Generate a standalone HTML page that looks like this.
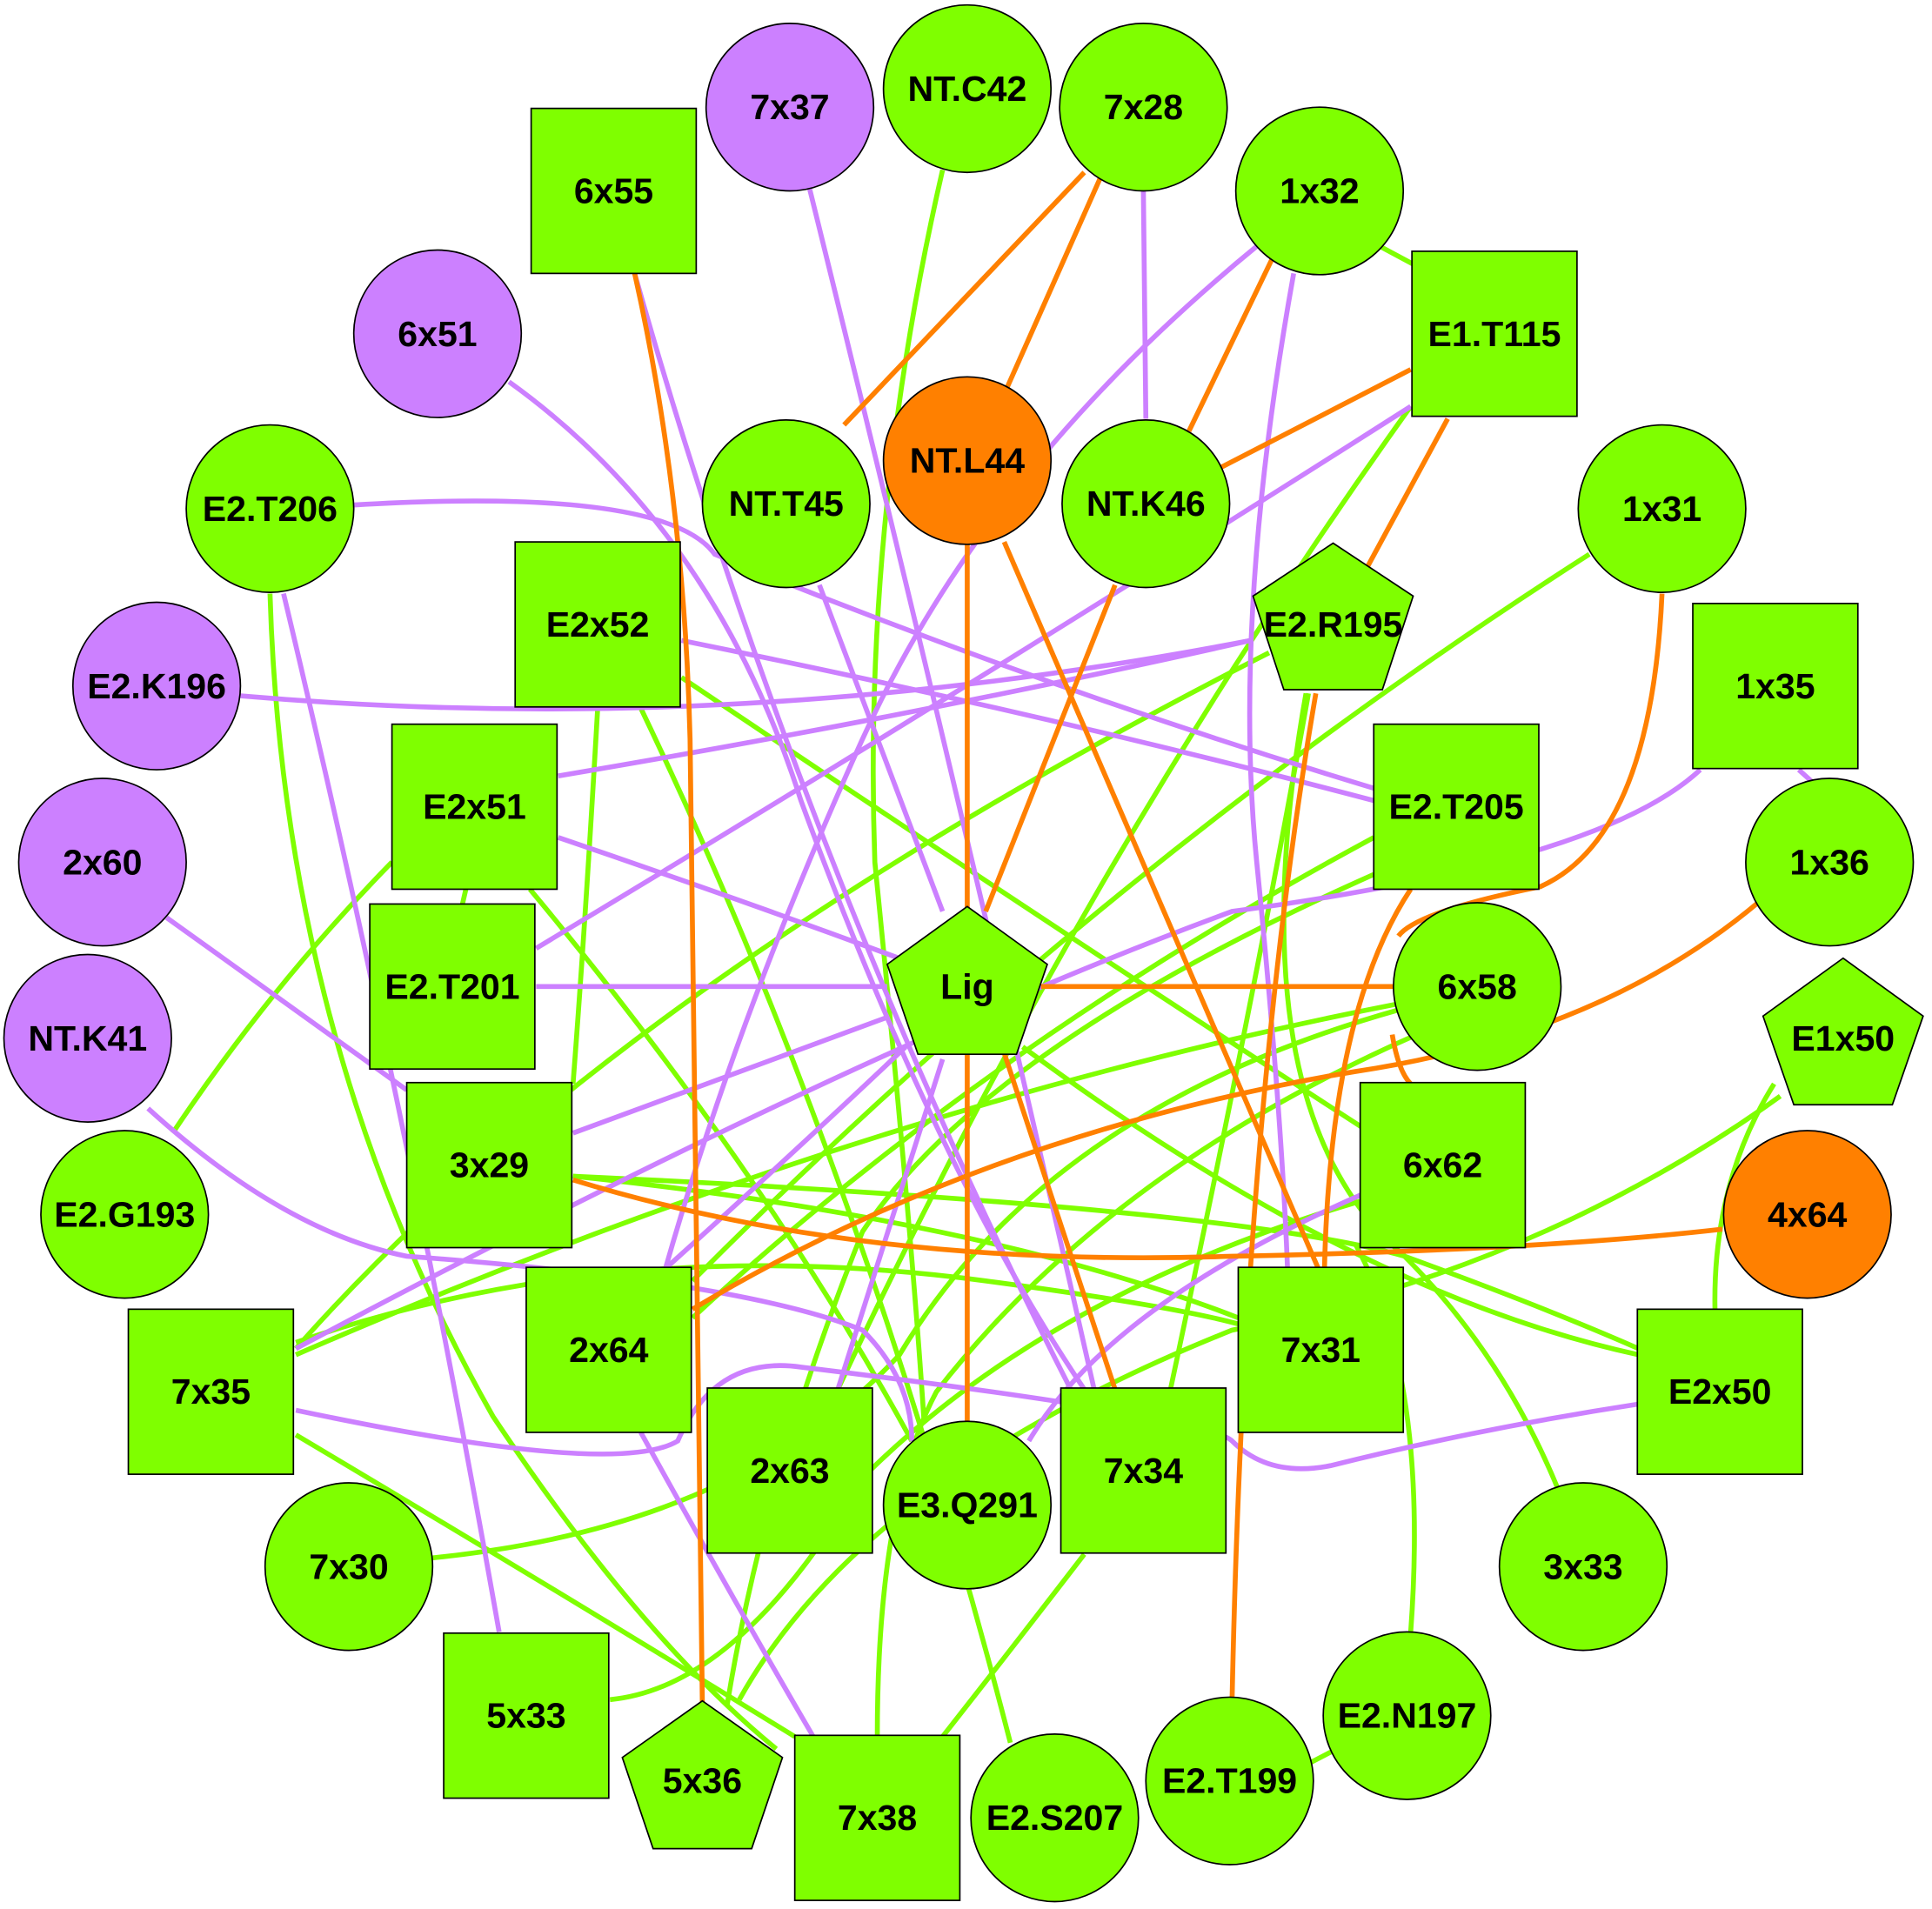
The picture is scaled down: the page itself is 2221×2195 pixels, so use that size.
<!DOCTYPE html>
<html><head><meta charset="utf-8"><style>
html,body{margin:0;padding:0;background:#fff}
svg{display:block}
text{font-family:"Liberation Sans",Arial,sans-serif;font-weight:bold;font-size:29px;text-anchor:middle;dominant-baseline:central;fill:#000}
.g{stroke:#7fff00;stroke-width:4;fill:none}
.p{stroke:#cc80ff;stroke-width:4;fill:none}
.o{stroke:#ff8000;stroke-width:4;fill:none}
.n{stroke:#000;stroke-width:1.2}
</style></head><body>
<svg width="2221" height="2195" viewBox="0 0 1568 1550" xmlns="http://www.w3.org/2000/svg">
<path class="g" d="M765,138 Q700,420 710,700 Q740,1000 750,1155"/>
<path class="g" d="M1120,200 L1148,215"/>
<path class="g" d="M1145,330 Q880,700 680,1128"/>
<path class="g" d="M1030,530 Q500,800 240,1095"/>
<path class="g" d="M1060,563 Q1000,900 1140,1020 Q1220,1100 1265,1210"/>
<path class="g" d="M1290,450 Q900,700 562,1040"/>
<path class="g" d="M485,575 Q475,750 465,880"/>
<path class="g" d="M520,575 Q700,950 820,1415"/>
<path class="g" d="M553,550 Q850,750 1105,915"/>
<path class="g" d="M318,700 Q220,800 140,920"/>
<path class="g" d="M430,722 Q620,950 740,1170"/>
<path class="g" d="M378,722 L375,735"/>
<path class="g" d="M219,482 Q230,850 400,1150 Q520,1330 630,1420"/>
<path class="g" d="M1115,710 Q800,850 700,1000 Q620,1200 590,1385"/>
<path class="g" d="M1115,680 Q800,850 562,1070"/>
<path class="g" d="M1135,815 Q700,900 240,1100"/>
<path class="g" d="M1135,820 Q850,900 730,1100 Q600,1240 350,1265"/>
<path class="g" d="M1150,840 Q900,950 760,1130 Q712,1220 712,1410"/>
<path class="g" d="M465,955 Q800,990 1005,1070"/>
<path class="g" d="M465,955 Q1000,980 1140,1020 Q1250,1060 1330,1095"/>
<path class="g" d="M1105,975 Q850,1050 700,1200 Q600,1370 495,1380"/>
<path class="g" d="M830,850 Q1100,1050 1330,1100"/>
<path class="g" d="M240,1165 Q450,1290 645,1410"/>
<path class="g" d="M880,1262 Q820,1340 765,1410"/>
<path class="g" d="M1445,890 Q1250,1030 1000,1080 Q700,1200 600,1380"/>
<path class="g" d="M1440,880 Q1390,960 1392,1063"/>
<path class="g" d="M1085,1420 L1062,1432"/>
<path class="g" d="M1145,1325 Q1160,1120 1100,1010"/>
<path class="g" d="M240,1090 Q500,1000 800,1040 Q950,1060 1005,1075"/>
<path class="g" d="M1062,563 Q1020,800 950,1128"/>
<path class="p" d="M655,145 Q780,650 888,1128"/>
<path class="p" d="M413,310 Q580,430 650,650 Q760,950 880,1128"/>
<path class="p" d="M515,222 Q650,700 870,1130"/>
<path class="p" d="M287,410 Q540,395 580,450 Q850,560 1115,640"/>
<path class="p" d="M665,475 L765,740"/>
<path class="p" d="M553,520 Q850,580 1115,650"/>
<path class="p" d="M195,565 Q600,600 1015,520"/>
<path class="p" d="M453,630 Q750,580 1015,520"/>
<path class="p" d="M453,680 Q600,730 735,780"/>
<path class="p" d="M435,801 L720,801"/>
<path class="p" d="M435,770 Q800,550 1145,330"/>
<path class="p" d="M1020,200 Q800,380 700,600 Q600,820 540,1030"/>
<path class="p" d="M1050,222 Q1000,500 1020,700 Q1040,900 1045,1030"/>
<path class="p" d="M928,155 L930,340"/>
<path class="p" d="M135,745 Q240,820 330,885"/>
<path class="p" d="M120,900 Q230,1000 330,1020 Q600,1040 700,1080 Q740,1120 740,1170"/>
<path class="p" d="M465,920 L720,826"/>
<path class="p" d="M240,1095 Q700,850 1000,740 Q1300,700 1380,625"/>
<path class="p" d="M240,1145 Q500,1200 550,1170 Q580,1100 650,1110 Q980,1150 1000,1170 Q1030,1200 1080,1190 Q1200,1160 1330,1140"/>
<path class="p" d="M765,860 L680,1128"/>
<path class="p" d="M735,850 Q640,940 540,1030"/>
<path class="p" d="M520,1163 Q590,1290 660,1410"/>
<path class="p" d="M230,482 Q330,900 405,1325"/>
<path class="p" d="M1105,970 Q900,1060 835,1170"/>
<path class="p" d="M1460,625 L1470,634"/>
<path class="o" d="M880,140 L685,345"/>
<path class="o" d="M895,140 L815,320"/>
<path class="o" d="M1035,205 L965,350"/>
<path class="o" d="M1145,300 L990,380"/>
<path class="o" d="M1175,340 L1110,460"/>
<path class="o" d="M785,442 L785,740"/>
<path class="o" d="M815,440 L1070,1030"/>
<path class="o" d="M905,475 L800,740"/>
<path class="o" d="M515,222 Q555,400 560,600 Q565,1000 570,1385"/>
<path class="o" d="M845,801 L1135,801"/>
<path class="o" d="M785,855 L785,1155"/>
<path class="o" d="M815,855 L905,1128"/>
<path class="o" d="M1349,482 Q1340,680 1250,720 Q1150,740 1135,760"/>
<path class="o" d="M1130,840 Q1135,870 1145,880"/>
<path class="o" d="M1145,722 Q1080,820 1075,1030"/>
<path class="o" d="M1068,563 Q1010,900 1000,1380"/>
<path class="o" d="M465,958 Q700,1030 1000,1020 Q1250,1015 1398,998"/>
<path class="o" d="M1428,732 Q1300,840 1100,870 Q800,920 562,1063"/>
<g>
<circle class="n" cx="641" cy="87" r="68" fill="#cc80ff"/><text x="641" y="87">7x37</text>
<circle class="n" cx="785" cy="72" r="68" fill="#7fff00"/><text x="785" y="72">NT.C42</text>
<circle class="n" cx="928" cy="87" r="68" fill="#7fff00"/><text x="928" y="87">7x28</text>
<rect class="n" x="431" y="88" width="134" height="134" fill="#7fff00"/><text x="498" y="155">6x55</text>
<circle class="n" cx="1071" cy="155" r="68" fill="#7fff00"/><text x="1071" y="155">1x32</text>
<circle class="n" cx="355" cy="271" r="68" fill="#cc80ff"/><text x="355" y="271">6x51</text>
<rect class="n" x="1146" y="204" width="134" height="134" fill="#7fff00"/><text x="1213" y="271">E1.T115</text>
<circle class="n" cx="785" cy="374" r="68" fill="#ff8000"/><text x="785" y="374">NT.L44</text>
<circle class="n" cx="638" cy="409" r="68" fill="#7fff00"/><text x="638" y="409">NT.T45</text>
<circle class="n" cx="930" cy="409" r="68" fill="#7fff00"/><text x="930" y="409">NT.K46</text>
<circle class="n" cx="219" cy="413" r="68" fill="#7fff00"/><text x="219" y="413">E2.T206</text>
<circle class="n" cx="1349" cy="413" r="68" fill="#7fff00"/><text x="1349" y="413">1x31</text>
<polygon class="n" points="1082,441 1147,484 1122,560 1042,560 1017,484" fill="#7fff00"/><text x="1082" y="507">E2.R195</text>
<rect class="n" x="418" y="440" width="134" height="134" fill="#7fff00"/><text x="485" y="507">E2x52</text>
<rect class="n" x="1374" y="490" width="134" height="134" fill="#7fff00"/><text x="1441" y="557">1x35</text>
<circle class="n" cx="127" cy="557" r="68" fill="#cc80ff"/><text x="127" y="557">E2.K196</text>
<rect class="n" x="318" y="588" width="134" height="134" fill="#7fff00"/><text x="385" y="655">E2x51</text>
<rect class="n" x="1115" y="588" width="134" height="134" fill="#7fff00"/><text x="1182" y="655">E2.T205</text>
<circle class="n" cx="83" cy="700" r="68" fill="#cc80ff"/><text x="83" y="700">2x60</text>
<circle class="n" cx="1485" cy="700" r="68" fill="#7fff00"/><text x="1485" y="700">1x36</text>
<rect class="n" x="300" y="734" width="134" height="134" fill="#7fff00"/><text x="367" y="801">E2.T201</text>
<polygon class="n" points="785,736 850,783 825,856 745,856 720,783" fill="#7fff00"/><text x="785" y="801">Lig</text>
<circle class="n" cx="1199" cy="801" r="68" fill="#7fff00"/><text x="1199" y="801">6x58</text>
<circle class="n" cx="71" cy="843" r="68" fill="#cc80ff"/><text x="71" y="843">NT.K41</text>
<polygon class="n" points="1496,778 1561,825 1536,897 1456,897 1431,825" fill="#7fff00"/><text x="1496" y="843">E1x50</text>
<rect class="n" x="330" y="879" width="134" height="134" fill="#7fff00"/><text x="397" y="946">3x29</text>
<rect class="n" x="1104" y="879" width="134" height="134" fill="#7fff00"/><text x="1171" y="946">6x62</text>
<circle class="n" cx="101" cy="986" r="68" fill="#7fff00"/><text x="101" y="986">E2.G193</text>
<circle class="n" cx="1467" cy="986" r="68" fill="#ff8000"/><text x="1467" y="986">4x64</text>
<rect class="n" x="427" y="1029" width="134" height="134" fill="#7fff00"/><text x="494" y="1096">2x64</text>
<rect class="n" x="1005" y="1029" width="134" height="134" fill="#7fff00"/><text x="1072" y="1096">7x31</text>
<rect class="n" x="104" y="1063" width="134" height="134" fill="#7fff00"/><text x="171" y="1130">7x35</text>
<rect class="n" x="1329" y="1063" width="134" height="134" fill="#7fff00"/><text x="1396" y="1130">E2x50</text>
<rect class="n" x="574" y="1127" width="134" height="134" fill="#7fff00"/><text x="641" y="1194">2x63</text>
<circle class="n" cx="785" cy="1222" r="68" fill="#7fff00"/><text x="785" y="1222">E3.Q291</text>
<rect class="n" x="861" y="1127" width="134" height="134" fill="#7fff00"/><text x="928" y="1194">7x34</text>
<circle class="n" cx="283" cy="1272" r="68" fill="#7fff00"/><text x="283" y="1272">7x30</text>
<circle class="n" cx="1285" cy="1272" r="68" fill="#7fff00"/><text x="1285" y="1272">3x33</text>
<rect class="n" x="360" y="1326" width="134" height="134" fill="#7fff00"/><text x="427" y="1393">5x33</text>
<circle class="n" cx="1142" cy="1393" r="68" fill="#7fff00"/><text x="1142" y="1393">E2.N197</text>
<polygon class="n" points="570,1381 635,1427 610,1501 530,1501 505,1427" fill="#7fff00"/><text x="570" y="1446">5x36</text>
<rect class="n" x="645" y="1409" width="134" height="134" fill="#7fff00"/><text x="712" y="1476">7x38</text>
<circle class="n" cx="856" cy="1476" r="68" fill="#7fff00"/><text x="856" y="1476">E2.S207</text>
<circle class="n" cx="998" cy="1446" r="68" fill="#7fff00"/><text x="998" y="1446">E2.T199</text>
</g>
</svg>
</body></html>
